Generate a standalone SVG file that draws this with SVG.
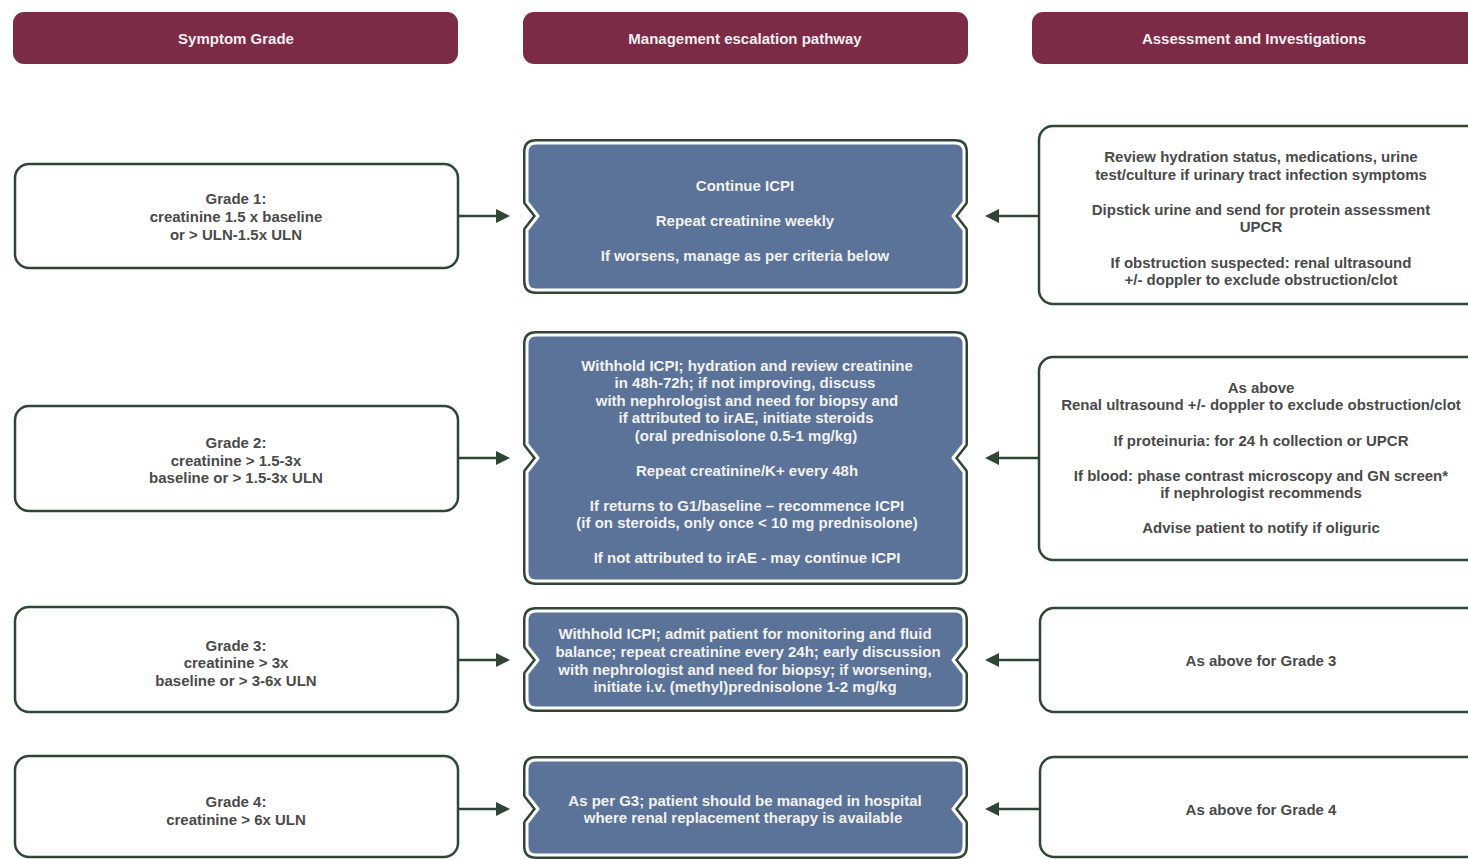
<svg xmlns="http://www.w3.org/2000/svg" xmlns:xlink="http://www.w3.org/1999/xlink" width="1468" height="859" viewBox="0 0 1468 859">
<style>
.hdr{fill:#7b2b46;}
.ht{fill:#f4eef0;font-family:"Liberation Sans",Arial,sans-serif;font-weight:bold;font-size:15px;text-anchor:middle;}
.lb{fill:#ffffff;stroke:#2f4634;stroke-width:2.5;}
.dt{fill:#4a4a4a;font-family:"Liberation Sans",Arial,sans-serif;font-weight:bold;font-size:15px;text-anchor:middle;}
.wt{fill:#f2f2f2;font-family:"Liberation Sans",Arial,sans-serif;font-weight:bold;font-size:15px;text-anchor:middle;}
.co{fill:#5b7399;stroke:#2f4634;stroke-width:8;stroke-linejoin:round;}
.ci{fill:#5b7399;stroke:#ffffff;stroke-width:3;stroke-linejoin:round;}
.cn{stroke:#2f4634;stroke-width:2.5;fill:none;}
</style>
<defs>
<marker id="ah" viewBox="0 0 10 10" refX="0" refY="5" markerWidth="14" markerHeight="14" markerUnits="userSpaceOnUse" orient="auto"><path d="M0,0 L10,5 L0,10 Z" fill="#2f4634"/></marker>
<path id="p1" d="M536,143 H955 Q964,143 964,152 V202 L953,216 L964,230 V281 Q964,290 955,290 H536 Q527,290 527,281 V230 L538,216 L527,202 V152 Q527,143 536,143 Z"/>
<path id="p2" d="M536,335 H955 Q964,335 964,344 V444 L953,458 L964,472 V572 Q964,581 955,581 H536 Q527,581 527,572 V472 L538,458 L527,444 V344 Q527,335 536,335 Z"/>
<path id="p3" d="M536,611 H955 Q964,611 964,620 V646 L953,660 L964,674 V699 Q964,708 955,708 H536 Q527,708 527,699 V674 L538,660 L527,646 V620 Q527,611 536,611 Z"/>
<path id="p4" d="M536,760 H955 Q964,760 964,769 V795 L953,809 L964,823 V846 Q964,855 955,855 H536 Q527,855 527,846 V823 L538,809 L527,795 V769 Q527,760 536,760 Z"/>
</defs>
<rect width="1468" height="859" fill="#ffffff"/>

<g id="header-symptom"><rect class="hdr" x="13" y="12" width="445" height="52" rx="11"/><text class="ht" x="236" y="44">Symptom Grade</text></g>
<g id="header-management"><rect class="hdr" x="523" y="12" width="445" height="52" rx="11"/><text class="ht" x="745" y="44">Management escalation pathway</text></g>
<g id="header-assessment"><rect class="hdr" x="1032" y="12" width="450" height="52" rx="11"/><text class="ht" x="1254" y="44">Assessment and Investigations</text></g>

<g id="connectors">
<line class="cn" x1="459" y1="216" x2="496" y2="216" marker-end="url(#ah)"/>
<line class="cn" x1="459" y1="458" x2="496" y2="458" marker-end="url(#ah)"/>
<line class="cn" x1="459" y1="660" x2="496" y2="660" marker-end="url(#ah)"/>
<line class="cn" x1="459" y1="809" x2="496" y2="809" marker-end="url(#ah)"/>
<line class="cn" x1="1039" y1="216" x2="999" y2="216" marker-end="url(#ah)"/>
<line class="cn" x1="1039" y1="458" x2="999" y2="458" marker-end="url(#ah)"/>
<line class="cn" x1="1040" y1="660" x2="999" y2="660" marker-end="url(#ah)"/>
<line class="cn" x1="1040" y1="809" x2="999" y2="809" marker-end="url(#ah)"/>
</g>

<g id="grade1"><rect class="lb" x="15" y="164" width="443" height="104" rx="14"/>
<text class="dt" x="236" y="204">Grade 1:</text><text class="dt" x="236" y="222">creatinine 1.5 x baseline</text><text class="dt" x="236" y="240">or &gt; ULN-1.5x ULN</text></g>
<g id="grade2"><rect class="lb" x="15" y="406" width="443" height="105" rx="14"/>
<text class="dt" x="236" y="448">Grade 2:</text><text class="dt" x="236" y="466">creatinine &gt; 1.5-3x</text><text class="dt" x="236" y="483">baseline or &gt; 1.5-3x ULN</text></g>
<g id="grade3"><rect class="lb" x="15" y="607" width="443" height="105" rx="14"/>
<text class="dt" x="236" y="651">Grade 3:</text><text class="dt" x="236" y="668">creatinine &gt; 3x</text><text class="dt" x="236" y="686">baseline or &gt; 3-6x ULN</text></g>
<g id="grade4"><rect class="lb" x="15" y="756" width="443" height="101" rx="14"/>
<text class="dt" x="236" y="807">Grade 4:</text><text class="dt" x="236" y="825">creatinine &gt; 6x ULN</text></g>

<g id="manage1"><use xlink:href="#p1" class="co"/><use xlink:href="#p1" class="ci"/>
<text class="wt" x="745" y="191">Continue ICPI</text><text class="wt" x="745" y="226">Repeat creatinine weekly</text><text class="wt" x="745" y="261">If worsens, manage as per criteria below</text></g>
<g id="manage2"><use xlink:href="#p2" class="co"/><use xlink:href="#p2" class="ci"/>
<text class="wt" x="747" y="371">Withhold ICPI; hydration and review creatinine</text>
<text class="wt" x="745" y="388">in 48h-72h; if not improving, discuss</text>
<text class="wt" x="747" y="406">with nephrologist and need for biopsy and</text>
<text class="wt" x="746" y="423">if attributed to irAE, initiate steroids</text>
<text class="wt" x="746" y="441">(oral prednisolone 0.5-1 mg/kg)</text>
<text class="wt" x="747" y="476">Repeat creatinine/K+ every 48h</text>
<text class="wt" x="747" y="511">If returns to G1/baseline – recommence ICPI</text>
<text class="wt" x="747" y="528">(if on steroids, only once &lt; 10 mg prednisolone)</text>
<text class="wt" x="747" y="563">If not attributed to irAE - may continue ICPI</text></g>
<g id="manage3"><use xlink:href="#p3" class="co"/><use xlink:href="#p3" class="ci"/>
<text class="wt" x="745" y="639">Withhold ICPI; admit patient for monitoring and fluid</text>
<text class="wt" x="748" y="657">balance; repeat creatinine every 24h; early discussion</text>
<text class="wt" x="745" y="675">with nephrologist and need for biopsy; if worsening,</text>
<text class="wt" x="745" y="692">initiate i.v. (methyl)prednisolone 1-2 mg/kg</text></g>
<g id="manage4"><use xlink:href="#p4" class="co"/><use xlink:href="#p4" class="ci"/>
<text class="wt" x="745" y="806">As per G3; patient should be managed in hospital</text>
<text class="wt" x="743" y="823">where renal replacement therapy is available</text></g>

<g id="assess1"><rect class="lb" x="1039" y="126" width="445" height="178" rx="14"/>
<text class="dt" x="1261" y="162">Review hydration status, medications, urine</text>
<text class="dt" x="1261" y="180">test/culture if urinary tract infection symptoms</text>
<text class="dt" x="1261" y="215">Dipstick urine and send for protein assessment</text>
<text class="dt" x="1261" y="232">UPCR</text>
<text class="dt" x="1261" y="268">If obstruction suspected: renal ultrasound</text>
<text class="dt" x="1261" y="285">+/- doppler to exclude obstruction/clot</text></g>
<g id="assess2"><rect class="lb" x="1039" y="357" width="445" height="203" rx="14"/>
<text class="dt" x="1261" y="393">As above</text>
<text class="dt" x="1261" y="410">Renal ultrasound +/- doppler to exclude obstruction/clot</text>
<text class="dt" x="1261" y="446">If proteinuria: for 24 h collection or UPCR</text>
<text class="dt" x="1261" y="481">If blood: phase contrast microscopy and GN screen*</text>
<text class="dt" x="1261" y="498">if nephrologist recommends</text>
<text class="dt" x="1261" y="533">Advise patient to notify if oliguric</text></g>
<g id="assess3"><rect class="lb" x="1040" y="608" width="445" height="104" rx="14"/>
<text class="dt" x="1261" y="666">As above for Grade 3</text></g>
<g id="assess4"><rect class="lb" x="1040" y="757" width="445" height="100" rx="14"/>
<text class="dt" x="1261" y="815">As above for Grade 4</text></g>
</svg>
